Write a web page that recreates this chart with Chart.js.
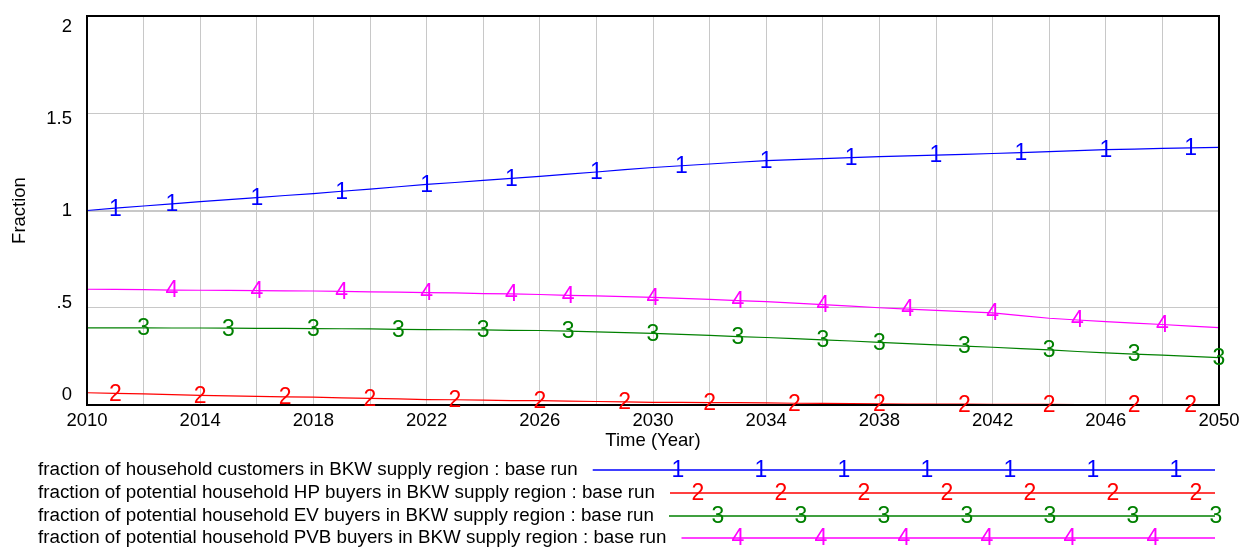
<!DOCTYPE html>
<html>
<head>
<meta charset="utf-8">
<script src="https://cdn.jsdelivr.net/npm/chart.js@4.4.1/dist/chart.umd.min.js"></script>
<style>
  html, body { margin: 0; padding: 0; background: #fff; }
  canvas { display: block; }
</style>
</head>
<body>
<canvas id="fractionChart" width="1251" height="548"></canvas>
<script>
const years = [2010, 2011, 2012, 2013, 2014, 2015, 2016, 2017, 2018, 2019,
               2020, 2021, 2022, 2023, 2024, 2025, 2026, 2027, 2028, 2029,
               2030, 2031, 2032, 2033, 2034, 2035, 2036, 2037, 2038, 2039,
               2040, 2041, 2042, 2043, 2044, 2045, 2046, 2047, 2048, 2049, 2050];

const customers = [1.000, 1.012, 1.023, 1.034, 1.046, 1.056, 1.066, 1.077, 1.087, 1.099,
                   1.110, 1.122, 1.134, 1.144, 1.155, 1.165, 1.175, 1.187, 1.198, 1.210,
                   1.221, 1.230, 1.239, 1.248, 1.256, 1.262, 1.267, 1.272, 1.277, 1.281,
                   1.285, 1.289, 1.293, 1.298, 1.303, 1.308, 1.313, 1.316, 1.319, 1.322, 1.325];

const hpBuyers = [0.063, 0.060, 0.057, 0.053, 0.049, 0.047, 0.044, 0.042, 0.040, 0.037,
                  0.034, 0.031, 0.028, 0.027, 0.025, 0.023, 0.022, 0.020, 0.018, 0.016,
                  0.014, 0.013, 0.012, 0.012, 0.011, 0.009, 0.008, 0.007, 0.006, 0.005,
                  0.005, 0.004, 0.003, 0.003, 0.003, 0.002, 0.002, 0.002, 0.002, 0.002, 0.002];

const evBuyers = [0.397, 0.397, 0.397, 0.396, 0.396, 0.395, 0.394, 0.394, 0.393, 0.392,
                  0.391, 0.389, 0.388, 0.387, 0.386, 0.384, 0.383, 0.380, 0.376, 0.372,
                  0.368, 0.363, 0.358, 0.352, 0.347, 0.341, 0.335, 0.329, 0.322, 0.316,
                  0.309, 0.303, 0.297, 0.290, 0.283, 0.275, 0.268, 0.262, 0.256, 0.250, 0.244];

const pvbBuyers = [0.595, 0.594, 0.593, 0.591, 0.590, 0.589, 0.588, 0.587, 0.586, 0.584,
                   0.582, 0.580, 0.578, 0.576, 0.573, 0.571, 0.568, 0.564, 0.561, 0.557,
                   0.553, 0.548, 0.543, 0.537, 0.532, 0.524, 0.516, 0.508, 0.500, 0.493,
                   0.486, 0.480, 0.474, 0.460, 0.446, 0.437, 0.429, 0.421, 0.414, 0.406, 0.398];

// years where vensim put the series number on the line
const markerYears = [
  [2011, 2013, 2016, 2019, 2022, 2025, 2028, 2031, 2034, 2037, 2040, 2043, 2046, 2049],
  [2011, 2014, 2017, 2020, 2023, 2026, 2029, 2032, 2035, 2038, 2041, 2044, 2047, 2049],
  [2012, 2015, 2018, 2021, 2024, 2027, 2030, 2033, 2036, 2038, 2041, 2044, 2047, 2050],
  [2013, 2016, 2019, 2022, 2025, 2027, 2030, 2033, 2036, 2039, 2042, 2045, 2048]
];

const seriesNames = [
  'fraction of household customers in BKW supply region : base run',
  'fraction of potential household HP buyers in BKW supply region : base run',
  'fraction of potential household EV buyers in BKW supply region : base run',
  'fraction of potential household PVB buyers in BKW supply region : base run'
];

const xTickLabels = [2010, 2014, 2018, 2022, 2026, 2030, 2034, 2038, 2042, 2046, 2050];
const yTickLabels = { 0: '0', 0.5: '.5', 1: '1', 1.5: '1.5', 2: '2' };

const colors = ['#0000ff', '#ff0000', '#008000', '#ff00ff'];
const FONT = '"Liberation Sans", Arial, sans-serif';

function toPoints(values) {
  return values.map((v, i) => ({ x: years[i], y: v }));
}

// no extra room for labels hanging past the plot edges
function noOverhang(scale) {
  scale.paddingTop = 0;
  scale.paddingBottom = 0;
  scale.paddingLeft = 0;
  scale.paddingRight = 0;
}

const vensimDecor = {
  id: 'vensimDecor',
  afterDatasetsDraw(chart) {
    const { ctx, chartArea: a } = chart;
    ctx.save();
    ctx.strokeStyle = '#000';
    ctx.lineWidth = 2;
    ctx.strokeRect(a.left, a.top, a.right - a.left, a.bottom - a.top);

    ctx.font = '23px ' + FONT;
    ctx.textAlign = 'center';
    ctx.textBaseline = 'middle';
    chart.data.datasets.forEach((ds, i) => {
      const meta = chart.getDatasetMeta(i);
      ctx.fillStyle = ds.borderColor;
      markerYears[i].forEach(yr => {
        const pt = meta.data[years.indexOf(yr)];
        ctx.fillText(String(i + 1), pt.x, pt.y + 1);
      });
    });
    ctx.restore();
  },
  afterDraw(chart) {
    const ctx = chart.ctx;
    const rowY = [470, 493, 516, 538];
    const lineEnd = 1215;
    ctx.save();
    seriesNames.forEach((name, i) => {
      ctx.font = '18.8px ' + FONT;
      ctx.textAlign = 'left';
      ctx.textBaseline = 'middle';
      ctx.fillStyle = '#000';
      ctx.fillText(name, 38, rowY[i]);
      const start = 38 + ctx.measureText(name).width + 15;
      ctx.strokeStyle = colors[i];
      ctx.lineWidth = 1.3;
      ctx.beginPath();
      ctx.moveTo(start, rowY[i]);
      ctx.lineTo(lineEnd, rowY[i]);
      ctx.stroke();
      ctx.font = '23px ' + FONT;
      ctx.textAlign = 'center';
      ctx.fillStyle = colors[i];
      for (let x = 678 + 20 * i; x <= lineEnd + 2; x += 83) {
        ctx.fillText(String(i + 1), x, rowY[i] + 1);
      }
    });
    ctx.restore();
  }
};

const seriesData = [customers, hpBuyers, evBuyers, pvbBuyers];

new Chart(document.getElementById('fractionChart'), {
  type: 'line',
  data: {
    datasets: seriesData.map((vals, i) => ({
      label: seriesNames[i],
      data: toPoints(vals),
      borderColor: colors[i],
      borderWidth: 1.2,
      pointRadius: 0,
      tension: 0
    }))
  },
  options: {
    responsive: false,
    animation: false,
    events: [],
    layout: { padding: { top: 16, right: 32, bottom: 93, left: 0 } },
    plugins: { legend: { display: false }, tooltip: { enabled: false } },
    scales: {
      x: {
        type: 'linear',
        min: 2010,
        max: 2050,
        grid: { color: '#c8c8c8', lineWidth: 1, drawTicks: false },
        border: { display: false },
        ticks: {
          stepSize: 2,
          autoSkip: false,
          maxRotation: 0,
          padding: 5,
          color: '#000',
          font: { family: FONT, size: 18.5 },
          callback: v => xTickLabels.includes(v) ? String(v) : ''
        },
        title: {
          display: true,
          text: 'Time (Year)',
          color: '#000',
          font: { family: FONT, size: 18.5 },
          padding: { top: 0, bottom: 3 }
        },
        afterFit: scale => { scale.height = 50; noOverhang(scale); }
      },
      y: {
        position: 'left',
        weight: 0,
        min: 0,
        max: 2,
        grid: {
          color: '#c8c8c8',
          lineWidth: c => c.tick && c.tick.value === 1 ? 2 : 1,
          drawTicks: false
        },
        border: { display: false },
        ticks: { display: false, stepSize: 0.5 },
        afterFit: scale => { scale.width = 0; noOverhang(scale); }
      },
      yLab: {
        position: 'left',
        weight: 1,
        min: -0.0543,
        max: 2.0598,
        grid: { display: false, drawTicks: false },
        border: { display: false },
        ticks: {
          stepSize: 0.5,
          includeBounds: false,
          padding: 15,
          color: '#000',
          font: { family: FONT, size: 18.5 },
          callback: v => yTickLabels[v] !== undefined ? yTickLabels[v] : null
        },
        title: {
          display: true,
          text: 'Fraction',
          color: '#000',
          font: { family: FONT, size: 18.5 },
          padding: { top: 9, bottom: 0 }
        },
        afterFit: scale => { scale.width = 87; noOverhang(scale); }
      }
    }
  },
  plugins: [vensimDecor]
});
</script>
</body>
</html>
